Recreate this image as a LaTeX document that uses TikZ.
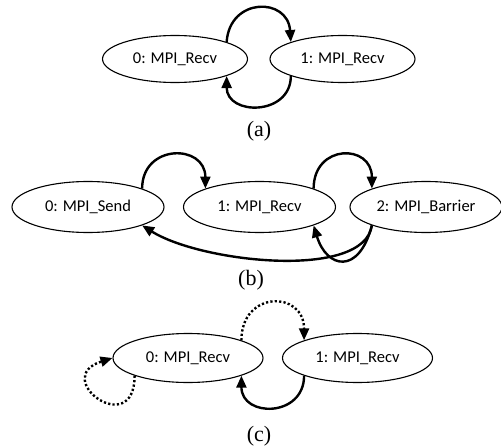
\documentclass[tikz,border=0pt]{standalone}
\usepackage{fontspec}
\setmainfont{Liberation Serif}
\newfontfamily\calib{Carlito}
\usetikzlibrary{shapes.geometric,arrows.meta}
\begin{document}
\begin{tikzpicture}[x=1pt,y=-1pt,
  st/.style={ellipse,draw,line width=1.1pt,inner sep=0pt,font=\calib\fontsize{16.5}{18}\selectfont},
  sta/.style={st,minimum width=145pt,minimum height=47pt},
  stb/.style={st,minimum width=152pt,minimum height=51pt},
  stc/.style={st,minimum width=150pt,minimum height=49pt},
  edge/.style={line width=2.4pt,-{Triangle[length=12pt,width=10pt]}},
  dotedge/.style={edge,dash pattern=on 2.2pt off 2.2pt},
  captxt/.style={font=\fontsize{22}{24}\selectfont}]
\useasboundingbox (0,0) rectangle (501,447);
% (a)
\node[sta] (a0) at (175,59) {0: MPI\_Recv};
\node[sta] (a1) at (342.5,59) {1: MPI\_Recv};
\draw[edge] (a0.north east) .. controls +(3,-45) and +(-3,-45) .. (a1.north west);
\draw[edge] (a1.south west) .. controls +(0,40) and +(0,40) .. (a0.south east);
\node[captxt] (ca) at (259,131) {(a)};
% (b)
\node[stb] (b0) at (88,207) {0: MPI\_Send};
\node[stb] (b1) at (259.5,207) {1: MPI\_Recv};
\node[stb] (b2) at (426,207) {2: MPI\_Barrier};
\draw[edge] (b0.north east) .. controls +(0,-45) and +(0,-45) .. (b1.north west);
\draw[edge] (b1.north east) .. controls +(0,-45) and +(0,-45) .. (b2.north west);
\draw[edge] (b2.south west) .. controls +(-8,55) and +(59,37) .. (b0.south east);
\draw[edge] (b2.south west) .. controls +(-13,50) and +(13,43) .. (b1.south east);
\node[captxt] (cb) at (251,280) {(b)};
% (c)
\node[stc] (c0) at (188,358) {0: MPI\_Recv};
\node[stc] (c1) at (357.5,358) {1: MPI\_Recv};
\draw[dotedge] (c0.north east) .. controls +(0,-50) and +(0,-50) .. (c1.north west);
\draw[edge] (c1.south west) .. controls +(0,42) and +(0,42) .. (c0.south east);
\draw[dotedge] (c0.south west) .. controls +(0,65) and +(-63,20) .. (c0.west);
\node[captxt] (cc) at (259,436) {(c)};
\end{tikzpicture}
\end{document}
